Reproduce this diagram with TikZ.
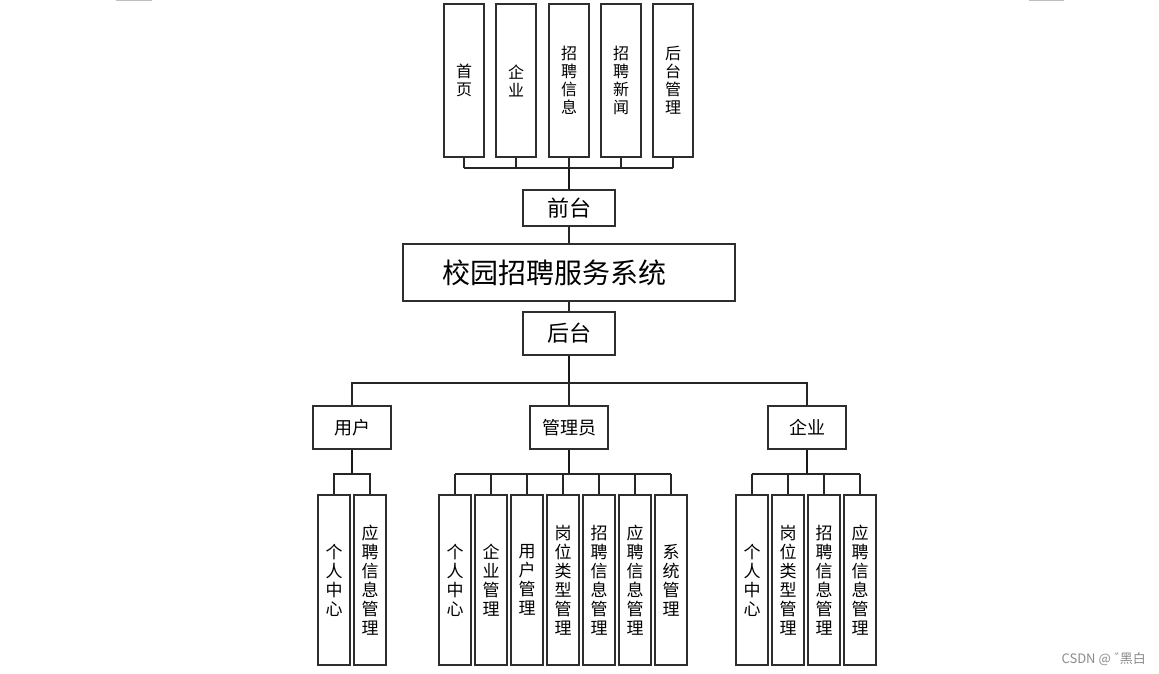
\documentclass[tikz,border=0pt]{standalone}
\usepackage{fontspec}
\setmainfont{Noto Sans CJK SC}
\begin{document}
\begin{tikzpicture}[x=1pt,y=-1pt,
  box/.style={draw=black!82, line width=2pt, fill=white, inner sep=0pt, align=center, text=black},
  tallbox/.style={box, minimum width=40pt, minimum height=153pt, font=\fontsize{16}{18}\selectfont},
  subbox/.style={box, minimum width=32pt, minimum height=170pt, font=\fontsize{17}{19}\selectfont},
  rolebox/.style={box, minimum width=78pt, minimum height=43pt, font=\fontsize{18}{20}\selectfont},
  midbox/.style={box, minimum width=92pt, font=\fontsize{22}{24}\selectfont},
  conn/.style={draw=black!85, line width=2pt},
  stem/.style={draw=black!90, line width=2.6pt},
  cornermark/.style={draw=black!25, line width=1pt}]
\useasboundingbox (0,0) rectangle (1159,674);
\fill[white] (0,0) rectangle (1159,674);
% corner marks
\coordinate (cl1) at (116,1); \coordinate (cl2) at (151,1); \coordinate (cl3) at (151,0);
\coordinate (cr1) at (1029,0); \coordinate (cr2) at (1029,1); \coordinate (cr3) at (1064,1);
\draw[cornermark] (cl1) -- (cl2) -- (cl3);
\draw[cornermark] (cr1) -- (cr2) -- (cr3);

% top modules
\node[tallbox] (t1) at (464,80.5) {首\\页};
\node[tallbox] (t2) at (516,80.5) {企\\业};
\node[tallbox] (t3) at (569,80.5) {招\\聘\\信\\息};
\node[tallbox] (t4) at (621,80.5) {招\\聘\\新\\闻};
\node[tallbox] (t5) at (673,80.5) {后\\台\\管\\理};

\node[midbox, minimum height=36pt] (qt) at (569,208) {前台};
\node[box, minimum width=332pt, minimum height=57pt, text width=254pt, align=left,
      font=\fontsize{28}{30}\selectfont] (sys) at (569,272.5) {校园招聘服务系统};
\node[midbox, minimum height=43pt] (ht) at (569,333.5) {后台};

\coordinate (tbus) at (569,168);
\foreach \n in {t1,t2,t3,t4,t5} \draw[conn] (\n.south) -- (\n.south |- tbus);
\draw[conn] (t1.south |- tbus) -- (t5.south |- tbus);
\draw[stem] (tbus) -- (qt.north);
\draw[conn] (qt.south) -- (sys.north);
\draw[conn] (sys.south) -- (ht.north);

% roles
\node[rolebox] (yh) at (352,427.5) {用户};
\node[rolebox] (gly) at (569,427.5) {管理员};
\node[rolebox] (qy) at (807,427.5) {企业};

\coordinate (rbus) at (569,383);
\draw[stem] (ht.south) -- (rbus);
\draw[conn] (yh.north) |- (rbus) -| (qy.north);
\draw[conn] (rbus) -- (gly.north);

% user children
\node[subbox] (u1) at (334,580) {个\\人\\中\\心};
\node[subbox] (u2) at (370,580) {应\\聘\\信\\息\\管\\理};
\coordinate (ubus) at (352,474);
\draw[stem] (yh.south) -- (ubus);
\draw[conn] (u1.north) |- (ubus) -| (u2.north);

% admin children
\node[subbox] (a1) at (455,580) {个\\人\\中\\心};
\node[subbox] (a2) at (491,580) {企\\业\\管\\理};
\node[subbox] (a3) at (527,580) {用\\户\\管\\理};
\node[subbox] (a4) at (563,580) {岗\\位\\类\\型\\管\\理};
\node[subbox] (a5) at (599,580) {招\\聘\\信\\息\\管\\理};
\node[subbox] (a6) at (635,580) {应\\聘\\信\\息\\管\\理};
\node[subbox] (a7) at (671,580) {系\\统\\管\\理};
\coordinate (abus) at (569,474);
\draw[stem] (gly.south) -- (abus);
\draw[conn] (a1.north |- abus) -- (a7.north |- abus);
\foreach \n in {a1,a2,a3,a4,a5,a6,a7} \draw[conn] (\n.north) -- (\n.north |- abus);

% company children
\node[subbox] (c1) at (752,580) {个\\人\\中\\心};
\node[subbox] (c2) at (788,580) {岗\\位\\类\\型\\管\\理};
\node[subbox] (c3) at (824,580) {招\\聘\\信\\息\\管\\理};
\node[subbox] (c4) at (860,580) {应\\聘\\信\\息\\管\\理};
\coordinate (cbus) at (807,474);
\draw[stem] (qy.south) -- (cbus);
\draw[conn] (c1.north |- cbus) -- (c4.north |- cbus);
\foreach \n in {c1,c2,c3,c4} \draw[conn] (\n.north) -- (\n.north |- cbus);

% watermark
\node[text=black!45, font=\fontsize{13}{15}\selectfont, inner sep=0pt, anchor=east] (wm) at (1146,659) {CSDN @\hspace{4pt}゛\kern-8pt 黑白};
\end{tikzpicture}
\end{document}
